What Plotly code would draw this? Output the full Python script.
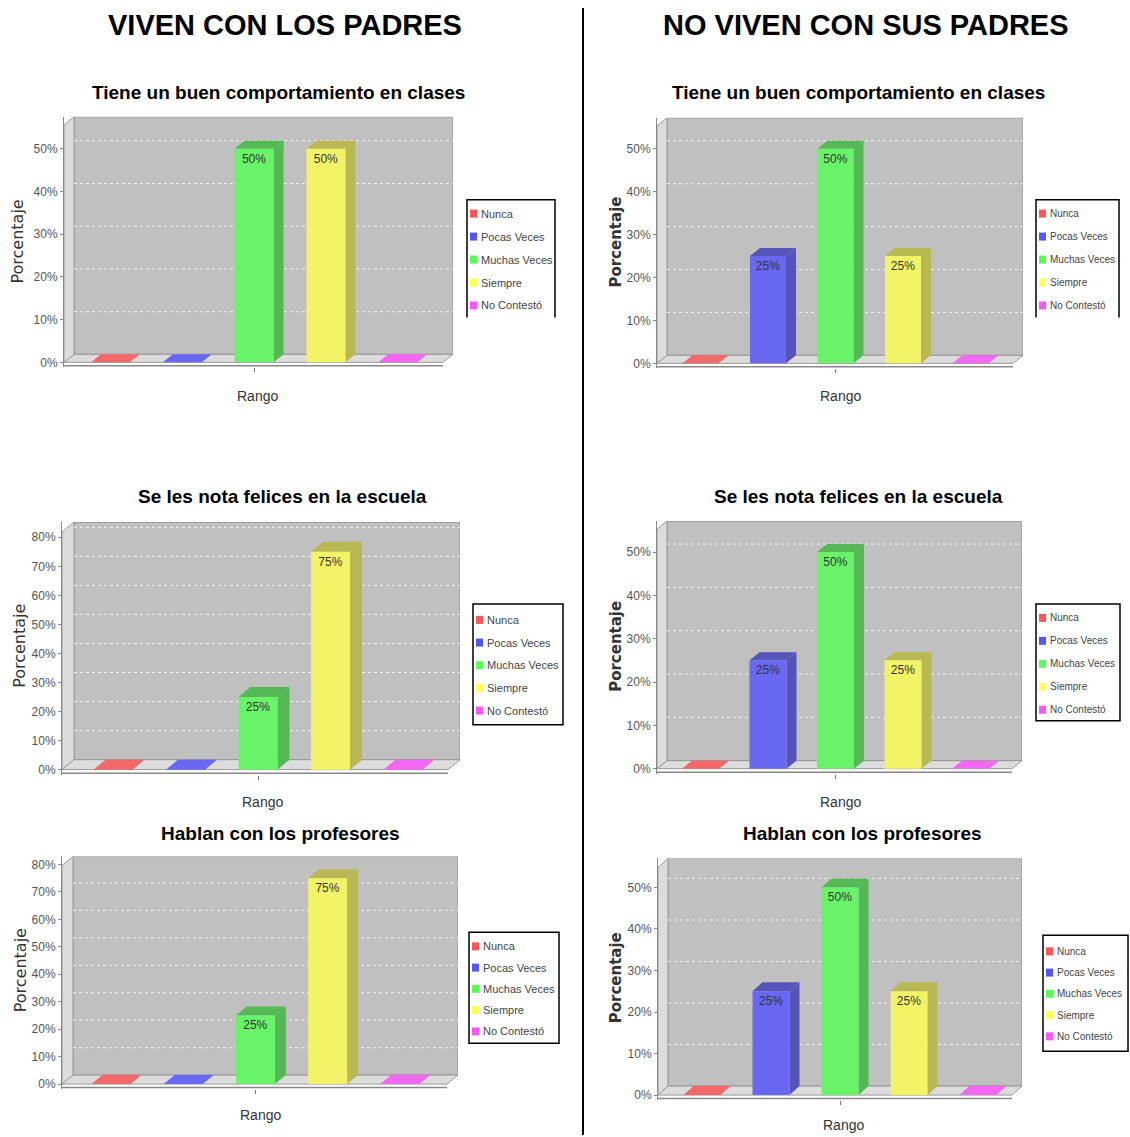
import plotly.graph_objects as go

W, H = 1130, 1137

grupos = ["VIVEN CON LOS PADRES", "NO VIVEN CON SUS PADRES"]
categorias = ["Nunca", "Pocas Veces", "Muchas Veces", "Siempre", "No Contestó"]
titulo_comportamiento = "Tiene un buen comportamiento en clases"
titulo_felices = "Se les nota felices en la escuela"
titulo_profesores = "Hablan con los profesores"

# porcentajes (izquierda: viven con los padres / derecha: no viven con sus padres)
comportamiento_con = [0, 0, 50, 50, 0]
comportamiento_sin = [0, 25, 50, 25, 0]
felices_con = [0, 0, 25, 75, 0]
felices_sin = [0, 25, 50, 25, 0]
profesores_con = [0, 0, 25, 75, 0]
profesores_sin = [0, 25, 50, 25, 0]

colores = ["#ff5555", "#5555ff", "#55ff55", "#ffff55", "#ff55ff"]

# geometria de cada panel en pixeles (caja 3D, escala, leyenda, textos)
paneles = [
    dict(valores=comportamiento_con, titulo=titulo_comportamiento,
         L=64, R=453, T=117, base=363, esc=4.28, c0=110.5, paso=71.8, ancho=39, dx=10, dy=8,
         tit=(278, 93), porc=(18, 242), porc_bold=False, rango=(257, 397),
         ley=(467, 200, 555, 318), ley_y0=214, ley_paso=23, ley_txt=11, abierta=True),
    dict(valores=comportamiento_sin, titulo=titulo_comportamiento,
         L=657, R=1023, T=118, base=364, esc=4.30, c0=700.5, paso=67.5, ancho=36, dx=10, dy=8,
         tit=(858, 93), porc=(616, 243), porc_bold=True, rango=(840, 397),
         ley=(1036, 200, 1119, 318), ley_y0=214, ley_paso=23, ley_txt=10, abierta=True),
    dict(valores=felices_con, titulo=titulo_felices,
         L=62, R=460, T=523, base=771, esc=2.91, c0=113, paso=72.5, ancho=39, dx=12, dy=10,
         tit=(282, 497), porc=(20, 647), porc_bold=False, rango=(262, 803),
         ley=(473, 605, 563, 726), ley_y0=621, ley_paso=22.7, ley_txt=11, abierta=False),
    dict(valores=felices_sin, titulo=titulo_felices,
         L=657, R=1022, T=522, base=770, esc=4.34, c0=700.5, paso=67.5, ancho=37, dx=10, dy=8,
         tit=(858, 497), porc=(616, 648), porc_bold=True, rango=(840, 803),
         ley=(1036, 605, 1120, 722), ley_y0=619, ley_paso=23, ley_txt=10, abierta=False),
    dict(valores=profesores_con, titulo=titulo_profesores,
         L=62, R=458, T=858, base=1086, esc=2.75, c0=111, paso=72.2, ancho=39, dx=11, dy=9,
         tit=(280, 835), porc=(20, 972), porc_bold=False, rango=(260, 1117),
         ley=(469, 934, 559, 1045), ley_y0=948, ley_paso=21.3, ley_txt=11, abierta=False),
    dict(valores=profesores_sin, titulo=titulo_profesores,
         L=658, R=1022, T=860, base=1097, esc=4.16, c0=702, paso=69, ancho=37, dx=10, dy=9,
         tit=(862, 835), porc=(616, 980), porc_bold=True, rango=(843, 1127),
         ley=(1043, 937, 1128, 1053), ley_y0=953, ley_paso=21.3, ley_txt=10, abierta=False),
]


def px(x):
    return x / W


def py(y):
    return 1 - y / H


def mezcla(hexc, k=1.0, a=0.82, fondo=192):
    c = [int(hexc[i:i + 2], 16) for i in (1, 3, 5)]
    c = [int(v * k * a + fondo * (1 - a)) for v in c]
    return "#%02x%02x%02x" % tuple(c)


def ruta(pts):
    return "M " + " L ".join(f"{x:.4f},{y:.4f}" for x, y in pts) + " Z"


FUENTE = "Liberation Sans, Arial, sans-serif"
fig = go.Figure()
shapes = []
annotations = []

for g, xc in zip(grupos, (285, 866)):
    annotations.append(dict(text=g, x=px(xc), y=py(25), xref="paper", yref="paper",
                            showarrow=False, xanchor="center", yanchor="middle",
                            font=dict(family=FUENTE, size=29, color="black", weight="bold")))

shapes.append(dict(type="line", xref="paper", yref="paper", x0=px(583), x1=px(583),
                   y0=py(8), y1=py(1137), line=dict(color="black", width=2)))

for i, p in enumerate(paneles):
    n = "" if i == 0 else str(i + 1)
    xr, yr = "x" + n, "y" + n
    esc, paso = p["esc"], p["paso"]
    B = p["base"] + 5
    ymin = -(B - p["base"]) / esc
    ymax = (p["base"] - p["T"]) / esc
    xmin = (p["L"] - p["c0"]) / paso
    xmax = (p["R"] - p["c0"]) / paso
    ddx = p["dx"] / paso
    ddy = p["dy"] / esc
    bw = p["ancho"] / paso
    tope = int(ymax // 10) * 10
    ticks = list(range(0, tope + 1, 10))

    fig.layout["xaxis" + n] = dict(domain=[px(p["L"]), px(p["R"])], range=[xmin, xmax],
                                   anchor=yr, showgrid=False, zeroline=False, showline=False,
                                   showticklabels=False, tickvals=[2], ticks="outside",
                                   ticklen=4, tickcolor="#777", fixedrange=True)
    fig.layout["yaxis" + n] = dict(domain=[py(B), py(p["T"])], range=[ymin, ymax],
                                   anchor=xr, showgrid=False, zeroline=False, showline=True,
                                   linecolor="#888", linewidth=1, ticks="outside", ticklen=3,
                                   tickcolor="#888", tickvals=ticks,
                                   ticktext=[f"{t}%" for t in ticks],
                                   tickfont=dict(family=FUENTE, size=12, color="#555"),
                                   fixedrange=True)

    # paredes 3D
    shapes.append(dict(type="rect", xref=xr, yref=yr, x0=xmin + ddx, x1=xmax, y0=ddy, y1=ymax,
                       fillcolor="#c0c0c0", line=dict(color="#8c8c8c", width=1), layer="below"))
    shapes.append(dict(type="path", xref=xr, yref=yr, layer="below",
                       path=ruta([(xmin, 0), (xmin + ddx, ddy), (xmin + ddx, ymax), (xmin, ymax - ddy)]),
                       fillcolor="#dcdcdc", line=dict(color="#9a9a9a", width=1)))
    shapes.append(dict(type="path", xref=xr, yref=yr, layer="below",
                       path=ruta([(xmin, 0), (xmax - ddx, 0), (xmax, ddy), (xmin + ddx, ddy)]),
                       fillcolor="#dcdcdc", line=dict(color="#9a9a9a", width=1)))
    for t in ticks[1:]:
        shapes.append(dict(type="line", xref=xr, yref=yr, layer="below",
                           x0=xmin + ddx, x1=xmax, y0=t + ddy, y1=t + ddy,
                           line=dict(color="#f0f0f0", width=1, dash="dot")))
    shapes.append(dict(type="line", xref=xr, yref=yr, x0=xmin, x1=xmax - ddx,
                       y0=-3.5 / esc, y1=-3.5 / esc, line=dict(color="#888", width=1.5)))

    # caras superior y lateral de las barras
    for k, v in enumerate(p["valores"]):
        x0, x1 = k - bw / 2, k + bw / 2
        cara = mezcla(colores[k], 0.72)
        shapes.append(dict(type="path", xref=xr, yref=yr, layer="below",
                           path=ruta([(x0, v), (x1, v), (x1 + ddx, v + ddy), (x0 + ddx, v + ddy)]),
                           fillcolor=cara if v else mezcla(colores[k]), line=dict(width=0)))
        if v:
            shapes.append(dict(type="path", xref=xr, yref=yr, layer="below",
                               path=ruta([(x1, 0), (x1 + ddx, ddy), (x1 + ddx, v + ddy), (x1, v)]),
                               fillcolor=cara, line=dict(width=0)))

    fig.add_trace(go.Bar(
        x=list(range(len(categorias))), y=p["valores"], width=bw,
        marker=dict(color=[mezcla(c) for c in colores], line=dict(width=0)),
        text=[f"{v}%" if v else "" for v in p["valores"]],
        textposition="inside", insidetextanchor="end", textangle=0,
        textfont=dict(family=FUENTE, size=12, color="#333"),
        customdata=categorias, hovertemplate="%{customdata}: %{y}%<extra></extra>",
        xaxis=xr, yaxis=yr, showlegend=False))

    # textos
    annotations.append(dict(text=p["titulo"], x=px(p["tit"][0]), y=py(p["tit"][1]),
                            xref="paper", yref="paper", showarrow=False,
                            xanchor="center", yanchor="middle",
                            font=dict(family=FUENTE, size=19, color="black", weight="bold")))
    annotations.append(dict(text="Porcentaje", x=px(p["porc"][0]), y=py(p["porc"][1]),
                            xref="paper", yref="paper", showarrow=False, textangle=-90,
                            xanchor="center", yanchor="middle",
                            font=dict(family="DejaVu Sans, sans-serif", size=15 if p["porc_bold"] else 16,
                                      color="#333", weight="bold" if p["porc_bold"] else "normal")))
    annotations.append(dict(text="Rango", x=px(p["rango"][0]), y=py(p["rango"][1]),
                            xref="paper", yref="paper", showarrow=False,
                            xanchor="center", yanchor="middle",
                            font=dict(family=FUENTE, size=14, color="#333")))

    # leyenda
    bx0, by0, bx1, by1 = p["ley"]
    if p["abierta"]:
        borde = f"M {px(bx0)},{py(by1)} L {px(bx0)},{py(by0)} L {px(bx1)},{py(by0)} L {px(bx1)},{py(by1)}"
        shapes.append(dict(type="rect", xref="paper", yref="paper", x0=px(bx0), x1=px(bx1),
                           y0=py(by1), y1=py(by0), fillcolor="white", line=dict(width=0)))
        shapes.append(dict(type="path", xref="paper", yref="paper", path=borde,
                           line=dict(color="black", width=1.5)))
    else:
        shapes.append(dict(type="rect", xref="paper", yref="paper", x0=px(bx0), x1=px(bx1),
                           y0=py(by1), y1=py(by0), fillcolor="white",
                           line=dict(color="black", width=1.5)))
    for k, c in enumerate(categorias):
        yy = p["ley_y0"] + k * p["ley_paso"]
        shapes.append(dict(type="rect", xref="paper", yref="paper",
                           x0=px(bx0 + 3), x1=px(bx0 + 10), y0=py(yy + 4), y1=py(yy - 4),
                           fillcolor=colores[k], line=dict(width=0)))
        annotations.append(dict(text=c, x=px(bx0 + 12), y=py(yy), xref="paper", yref="paper",
                                showarrow=False, xanchor="left", yanchor="middle",
                                font=dict(family=FUENTE, size=p["ley_txt"], color="#444")))

fig.update_layout(width=W, height=H, margin=dict(l=0, r=0, t=0, b=0),
                  paper_bgcolor="white", plot_bgcolor="rgba(0,0,0,0)",
                  showlegend=False, barmode="overlay",
                  shapes=shapes, annotations=annotations)

# sin margen del body para que la figura ocupe la ventana exacta
fig.write_html("out.html", config={"displayModeBar": False},
               post_script="document.body.style.margin='0px';")
